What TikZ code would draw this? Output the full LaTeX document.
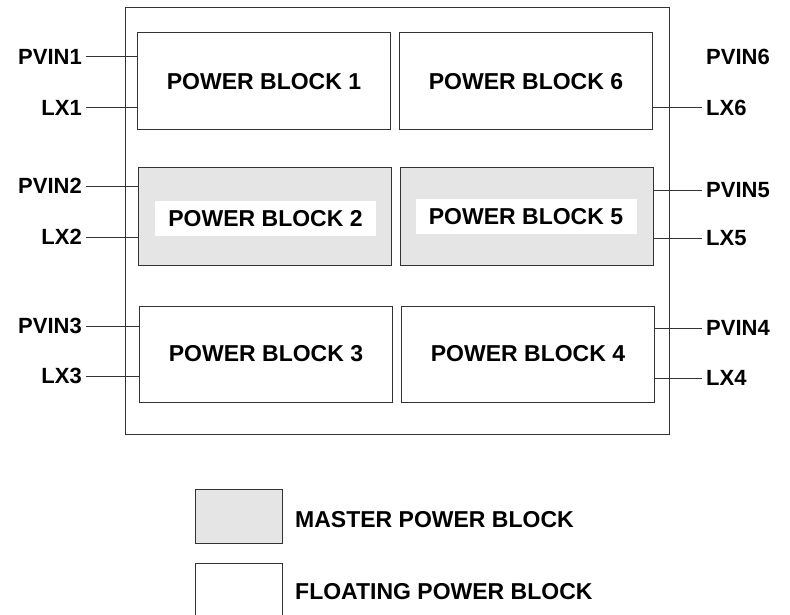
\documentclass[tikz,border=0pt]{standalone}
\usepackage{fontspec}
\setmainfont{Liberation Sans}
\usepackage{tikz}
\usetikzlibrary{positioning}

\begin{document}
\begin{tikzpicture}[
  x=1pt, y=-1pt,
  frame/.style={draw=black!80, line width=1pt, inner sep=0pt},
  pblock/.style={draw=black!80, fill=white, line width=1pt, inner sep=0pt,
                 minimum width=253pt, minimum height=97pt,
                 font=\fontsize{23}{27}\selectfont\bfseries},
  mblock/.style={pblock, fill=black!10},
  tagbox/.style={fill=white, inner sep=0pt, minimum width=221pt,
                 minimum height=35pt, font=\fontsize{23}{27}\selectfont\bfseries},
  pinl/.style={anchor=east, inner sep=4pt, font=\fontsize{22}{26}\selectfont\bfseries},
  pinr/.style={anchor=west, inner sep=4pt, font=\fontsize{22}{26}\selectfont\bfseries},
  wire/.style={draw=black!80, line width=1pt},
  legtxt/.style={anchor=west, inner sep=0pt, font=\fontsize{23}{27}\selectfont\bfseries}
]
  \useasboundingbox[fill=white] (0,0) rectangle (790,615);

  % ========== OUTER FRAME ==========
  \node[frame, minimum width=544pt, minimum height=426pt] (chip) at (397,221) {};

  % ========== POWER BLOCKS ==========
  \node[pblock] (b1) at (264,81.5) {POWER BLOCK 1};
  \node[pblock] (b6) at (526,81.5) {POWER BLOCK 6};

  \node[mblock] (b2) at (265,216.5) {};
  \node[tagbox] (t2) at (265.5,218.5) {POWER BLOCK 2};
  \node[mblock] (b5) at (527,216.5) {};
  \node[tagbox] (t5) at (526,216.5) {POWER BLOCK 5};

  \node[pblock, minimum height=96pt] (b3) at (266,354) {POWER BLOCK 3};
  \node[pblock, minimum height=96pt] (b4) at (528,354) {POWER BLOCK 4};

  % ======== PINS: LEFT SIDE ========
  \node[pinl] (pvin1) at (86,57)  {PVIN1};
  \node[pinl] (lx1)   at (86,108) {LX1};
  \node[pinl] (pvin2) at (86,186) {PVIN2};
  \node[pinl] (lx2)   at (86,237) {LX2};
  \node[pinl] (pvin3) at (86,326) {PVIN3};
  \node[pinl] (lx3)   at (86,376) {LX3};

  \draw[wire] (pvin1.east) -- (pvin1.east -| b1.west);
  \draw[wire] (lx1.east)   -- (lx1.east -| b1.west);
  \draw[wire] (pvin2.east) -- (pvin2.east -| b2.west);
  \draw[wire] (lx2.east)   -- (lx2.east -| b2.west);
  \draw[wire] (pvin3.east) -- (pvin3.east -| b3.west);
  \draw[wire] (lx3.east)   -- (lx3.east -| b3.west);

  % ======== PINS: RIGHT SIDE ========
  \node[pinr] (pvin6) at (702,57)  {PVIN6};
  \node[pinr] (lx6)   at (702,108) {LX6};
  \node[pinr] (pvin5) at (702,190) {PVIN5};
  \node[pinr] (lx5)   at (702,238) {LX5};
  \node[pinr] (pvin4) at (702,328) {PVIN4};
  \node[pinr] (lx4)   at (702,378) {LX4};

  \draw[wire] (lx6.west -| b6.east)   -- (lx6.west);
  \draw[wire] (pvin5.west -| b5.east) -- (pvin5.west);
  \draw[wire] (lx5.west -| b5.east)   -- (lx5.west);
  \draw[wire] (pvin4.west -| b4.east) -- (pvin4.west);
  \draw[wire] (lx4.west -| b4.east)   -- (lx4.west);

  % ========== LEGEND ==========
  \node[mblock, minimum width=87pt, minimum height=54pt] (keym) at (238.5,516) {};
  \node[pblock, minimum width=87pt, minimum height=54pt] (keyf) at (238.5,590) {};
  \node[legtxt] (txtm) at (295,520) {MASTER POWER BLOCK};
  \node[legtxt] (txtf) at (295,592) {FLOATING POWER BLOCK};

\end{tikzpicture}
\end{document}
